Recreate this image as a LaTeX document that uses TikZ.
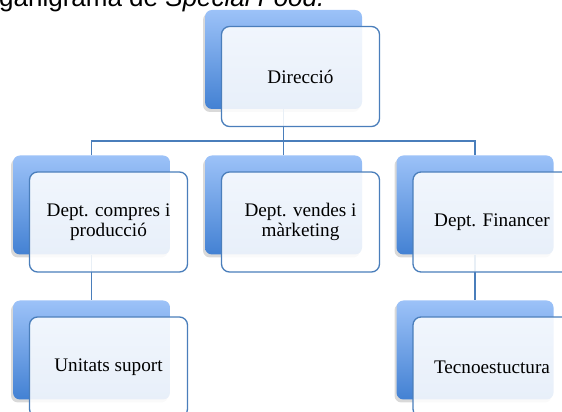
\documentclass[tikz,border=0pt]{standalone}
\usepackage{fontspec}
\newfontfamily\titlefont{Liberation Sans}
\newfontfamily\boxfont{Liberation Serif}
\usetikzlibrary{positioning,shadows}
\definecolor{backtop}{HTML}{9CC2F8}
\definecolor{backbot}{HTML}{4381D3}
\definecolor{edge}{HTML}{4A7EBB}
\tikzset{
  back/.style={rectangle,rounded corners=7pt,minimum width=157pt,minimum height=99pt,
    top color=backtop,bottom color=backbot,
    drop shadow={shadow xshift=-2pt,shadow yshift=-3pt,opacity=0.3}},
  front/.style={rectangle,rounded corners=8pt,minimum width=158pt,minimum height=100pt,
    draw=edge,line width=1.3pt,fill=white,fill opacity=0.88,text opacity=1,
    align=center,font=\boxfont\fontsize{19.2}{20}\selectfont},
  link/.style={draw=edge,line width=1.5pt}
}
\begin{document}
\begin{tikzpicture}[x=1pt,y=1pt]
\clip (0,0) rectangle (562,412);
\node[anchor=base west,inner sep=0pt,font=\titlefont\fontsize{26}{30}\selectfont] (title) at (-1,405) {ganigrama de \textit{Special Food.}};
% back boxes
\node[back] (dirB) at (283.5,352.5) {};
\node[back] (comB) at (91.5,207) {};
\node[back] (venB) at (283.5,207) {};
\node[back] (finB) at (475,207) {};
\node[back] (uniB) at (91.5,62) {};
\node[back] (tecB) at (475,62) {};
% connectors
\draw[link] (dirB.south) -- ++(0,-32) coordinate (bus);
\draw[link] (comB.north) |- (bus) -| (finB.north);
\draw[link] (venB.north) -- (venB.north |- bus);
\draw[link] (comB.south) -- (uniB.north);
\draw[link] (finB.south) -- (tecB.north);
% front boxes
\node[front] (dir) at ([xshift=17pt,yshift=-17pt]dirB.center) {Direcció};
\node[front] (com) at ([xshift=17pt,yshift=-17pt]comB.center) {Dept. compres i\\producció};
\node[front] (ven) at ([xshift=17pt,yshift=-17pt]venB.center) {Dept. vendes i\\màrketing};
\node[front] (fin) at ([xshift=17pt,yshift=-17pt]finB.center) {Dept. Financer};
\node[front] (uni) at ([xshift=17pt,yshift=-17pt]uniB.center) {Unitats suport};
\node[front] (tec) at ([xshift=17pt,yshift=-17pt]tecB.center) {Tecnoestuctura};
\end{tikzpicture}
\end{document}
